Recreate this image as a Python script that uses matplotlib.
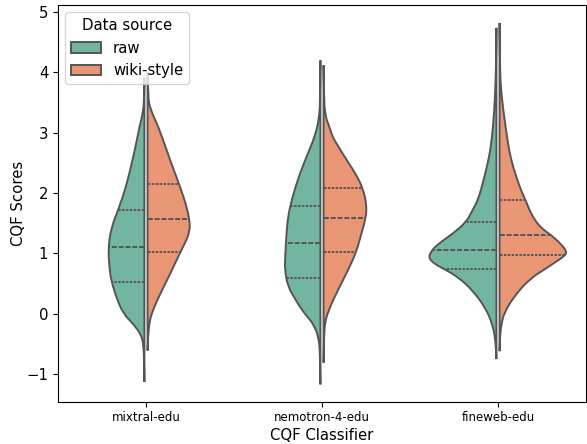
import matplotlib
matplotlib.use("Agg")
import matplotlib.pyplot as plt
from matplotlib.patches import Patch, PathPatch
from matplotlib.path import Path
import numpy as np
import seaborn as sns

# classifiers on the x axis, two data sources per violin
classifiers = ['mixtral-edu', 'nemotron-4-edu', 'fineweb-edu']
sources = ['raw', 'wiki-style']

# density profiles: score levels (bottom -> top)
# and half-width in pixels of the original (67.5 = widest half in the plot)
mix_raw_y = [-1.13, -0.8, -0.5, -0.34, -0.17, 0.0, 0.27, 0.55, 0.77, 1.10, 1.43, 1.77, 2.10, 2.43, 2.76, 3.09, 3.37, 3.6, 3.92]
mix_raw_d = [0, 0.3, 1, 3.5, 11, 21, 28, 33, 35, 36, 33, 25, 18.5, 13.5, 9, 5, 1, 0.3, 0]
mix_wiki_y = [-0.61, -0.35, -0.12, 0.05, 0.33, 0.66, 1.02, 1.21, 1.38, 1.54, 1.80, 2.10, 2.43, 2.76, 3.09, 3.40, 3.6, 4.0]
mix_wiki_d = [0, 0.5, 2, 5, 12.5, 22.5, 32.5, 38.5, 42, 42, 38.5, 32.5, 25, 18, 11, 2.5, 0.5, 0]

nem_raw_y = [-1.17, -0.7, -0.39, -0.17, -0.05, 0.10, 0.27, 0.44, 0.71, 0.99, 1.27, 1.60, 1.93, 2.30, 2.62, 2.93, 3.26, 3.6, 4.2]
nem_raw_d = [0, 0.3, 1.6, 7, 13, 20, 26, 32, 35.5, 35, 34, 32.5, 28, 21, 13.5, 5.6, 1, 0.3, 0]
nem_wiki_y = [-0.81, -0.4, -0.12, 0.10, 0.40, 0.71, 1.02, 1.32, 1.58, 1.80, 2.08, 2.32, 2.60, 2.82, 2.93, 3.09, 3.28, 3.6, 4.12]
nem_wiki_d = [0, 0.3, 1.5, 6, 14.5, 24, 32.5, 37.5, 42, 43, 39.2, 32, 21, 13, 9, 6, 1.6, 0.3, 0]

fw_raw_y = [-0.75, -0.55, -0.39, -0.17, 0.10, 0.38, 0.60, 0.74, 0.82, 0.92, 1.03, 1.16, 1.32, 1.52, 1.71, 1.90, 2.20, 2.52, 2.82, 3.37, 3.92, 4.2, 4.74]
fw_raw_d = [0, 0.5, 1.5, 4, 11, 23.3, 37.5, 51.7, 61, 67.5, 65.5, 58, 44, 30, 24, 18, 13, 8.3, 5, 2, 0.7, 0.3, 0]
fw_wiki_y = [-0.62, -0.4, -0.17, 0.03, 0.30, 0.58, 0.77, 0.85, 0.96, 1.03, 1.16, 1.31, 1.40, 1.54, 1.71, 1.88, 2.04, 2.30, 2.54, 2.82, 3.37, 3.78, 4.2, 4.82]
fw_wiki_d = [0, 0.3, 1.7, 5, 15, 30, 48, 55, 65, 67, 61, 51, 43, 35.5, 30, 26, 21.5, 16, 11.7, 8.3, 3.7, 1, 0.3, 0]

# quartiles (25, 50, 75) per half
mix_raw_q = [0.52, 1.10, 1.72]
mix_wiki_q = [1.03, 1.57, 2.15]
nem_raw_q = [0.60, 1.18, 1.79]
nem_wiki_q = [1.02, 1.58, 2.08]
fw_raw_q = [0.75, 1.05, 1.52]
fw_wiki_q = [0.97, 1.31, 1.89]

halves = [
    [(mix_raw_y, mix_raw_d, mix_raw_q), (mix_wiki_y, mix_wiki_d, mix_wiki_q)],
    [(nem_raw_y, nem_raw_d, nem_raw_q), (nem_wiki_y, nem_wiki_d, nem_wiki_q)],
    [(fw_raw_y, fw_raw_d, fw_raw_q), (fw_wiki_y, fw_wiki_d, fw_wiki_q)],
]

colors = [sns.desaturate(c, 0.75) for c in sns.color_palette('Set2', 2)]
edge = '#555555'
half_max = 0.385   # widest half in x units
gap = 0.009
lw = 1.4


def half_path(xs, ys, inner):
    # smooth outer edge (quadratic b-spline through the read points),
    # straight inner edge back down
    pts = list(zip(xs, ys))
    verts = [pts[0]]
    codes = [Path.MOVETO]
    for k in range(1, len(pts) - 2):
        mid = ((pts[k][0] + pts[k + 1][0]) / 2, (pts[k][1] + pts[k + 1][1]) / 2)
        verts += [pts[k], mid]
        codes += [Path.CURVE3, Path.CURVE3]
    verts += [pts[-2], pts[-1]]
    codes += [Path.CURVE3, Path.CURVE3]
    verts += [(inner, ys[-1]), (inner, ys[0]), pts[0]]
    codes += [Path.LINETO, Path.LINETO, Path.CLOSEPOLY]
    return Path(verts, codes)


fig = plt.figure(figsize=(5.87, 4.44), dpi=100)
ax = fig.add_axes([0.0988, 0.0935, 0.8995, 0.8955])

for i, pair in enumerate(halves):
    for j, (ys, ds, qs) in enumerate(pair):
        ys = np.array(ys)
        w = np.array(ds) / 67.5 * half_max
        side = -1 if j == 0 else 1
        inner = i + side * gap
        outer = inner + side * w
        ax.add_patch(PathPatch(half_path(outer, ys, inner), facecolor=colors[j],
                               edgecolor=edge, linewidth=lw, zorder=2))
        for k, q in enumerate(qs):
            qw = np.interp(q, ys, w) * 0.985
            dashes = (2.5, 1) if k == 1 else (1.25, 0.75)
            ax.plot([inner, inner + side * qw], [q, q], color=edge,
                    linewidth=lw, dashes=dashes, zorder=3)

ax.set_xlim(-0.5, 2.5)
ax.set_ylim(-1.47, 5.12)
ax.set_xticks(range(len(classifiers)))
ax.set_xticklabels(classifiers)
ax.set_yticks(range(-1, 6))
ax.tick_params(axis='x', labelsize=8.5, pad=2.5)
ax.tick_params(axis='y', labelsize=10.7)
ax.set_xlabel('CQF Classifier', fontsize=10.7, labelpad=3)
ax.set_ylabel('CQF Scores', fontsize=10.7, labelpad=0)

handles = [Patch(facecolor=colors[j], edgecolor=edge, linewidth=lw, label=s)
           for j, s in enumerate(sources)]
ax.legend(handles=handles, title='Data source', loc='upper left',
          fontsize=10.7, title_fontsize=10.7)

fig.savefig('out.png', dpi=100)
